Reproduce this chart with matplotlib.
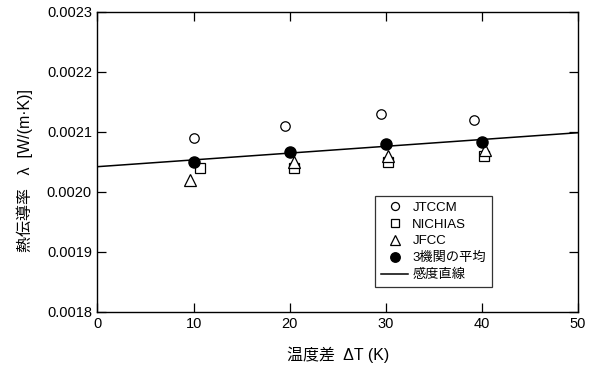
import numpy as np
import matplotlib
matplotlib.use("Agg")
import matplotlib.pyplot as plt

plt.rcParams['font.family'] = ['Liberation Sans', 'Noto Sans CJK JP', 'DejaVu Sans']

# Temperature difference (K) at which each lab measured
x_jtccm = [10.0, 19.5, 29.5, 39.2]
x_nichias = [10.7, 20.5, 30.2, 40.2]
x_jfcc = [9.6, 20.5, 30.25, 40.3]
x_avg = [10.0, 20.0, 30.0, 40.0]

# Thermal conductivity (W/(m·K))
y_jtccm = [0.00209, 0.00211, 0.00213, 0.00212]
y_nichias = [0.00204, 0.00204, 0.00205, 0.00206]
y_jfcc = [0.00202, 0.00205, 0.00206, 0.00207]
y_avg = [0.002050, 0.0020667, 0.002080, 0.0020833]

labels = ['JTCCM', 'NICHIAS', 'JFCC', '3機関の平均', '感度直線']
xticks = [0, 10, 20, 30, 40, 50]
yticks = [0.0018, 0.0019, 0.0020, 0.0021, 0.0022, 0.0023]

fig = plt.figure(figsize=(5.97, 3.74), dpi=100)
ax = fig.add_axes([0.1633, 0.1666, 0.8047, 0.8021])

ax.plot(x_jtccm, y_jtccm, 'o', mfc='white', mec='black', mew=0.9, ms=6.8, label=labels[0])
ax.plot(x_nichias, y_nichias, 's', mfc='white', mec='black', mew=0.9, ms=6.5, label=labels[1])
ax.plot(x_jfcc, y_jfcc, '^', mfc='white', mec='black', mew=0.9, ms=8.0, label=labels[2])
ax.plot(x_avg, y_avg, 'o', mfc='black', mec='black', ms=8.0, label=labels[3])

# Sensitivity line: least-squares fit through the averaged values
slope, intercept = np.polyfit(x_avg, y_avg, 1)
xl = np.array([0, 50])
ax.plot(xl, slope * xl + intercept, '-', color='black', lw=1.1, label=labels[4])

ax.set_xlim(0, 50)
ax.set_ylim(0.0018, 0.0023)
ax.set_xticks(xticks)
ax.set_yticks(yticks)
ax.set_yticklabels([f'{v:.4f}' for v in yticks])
ax.tick_params(direction='in', length=6.5, width=0.9, top=True, right=True,
               labelsize=10.5, pad=4, colors='black')
for s in ax.spines.values():
    s.set_linewidth(1.0)

ax.set_xlabel('温度差  ΔT (K)', fontsize=11.5, labelpad=11)
ax.set_ylabel('熱伝導率   λ  [W/(m·K)]', fontsize=11.5)
ax.yaxis.set_label_coords(-0.134, 0.47)

leg = ax.legend(loc='lower right', bbox_to_anchor=(0.821, 0.082), fontsize=9.5,
                frameon=True, fancybox=False, edgecolor='black', handlelength=2.0,
                handletextpad=0.35, borderpad=0.45, labelspacing=0.35, borderaxespad=0,
                markerscale=0.85)
leg.get_frame().set_linewidth(0.9)

fig.savefig('out.png', dpi=100)
